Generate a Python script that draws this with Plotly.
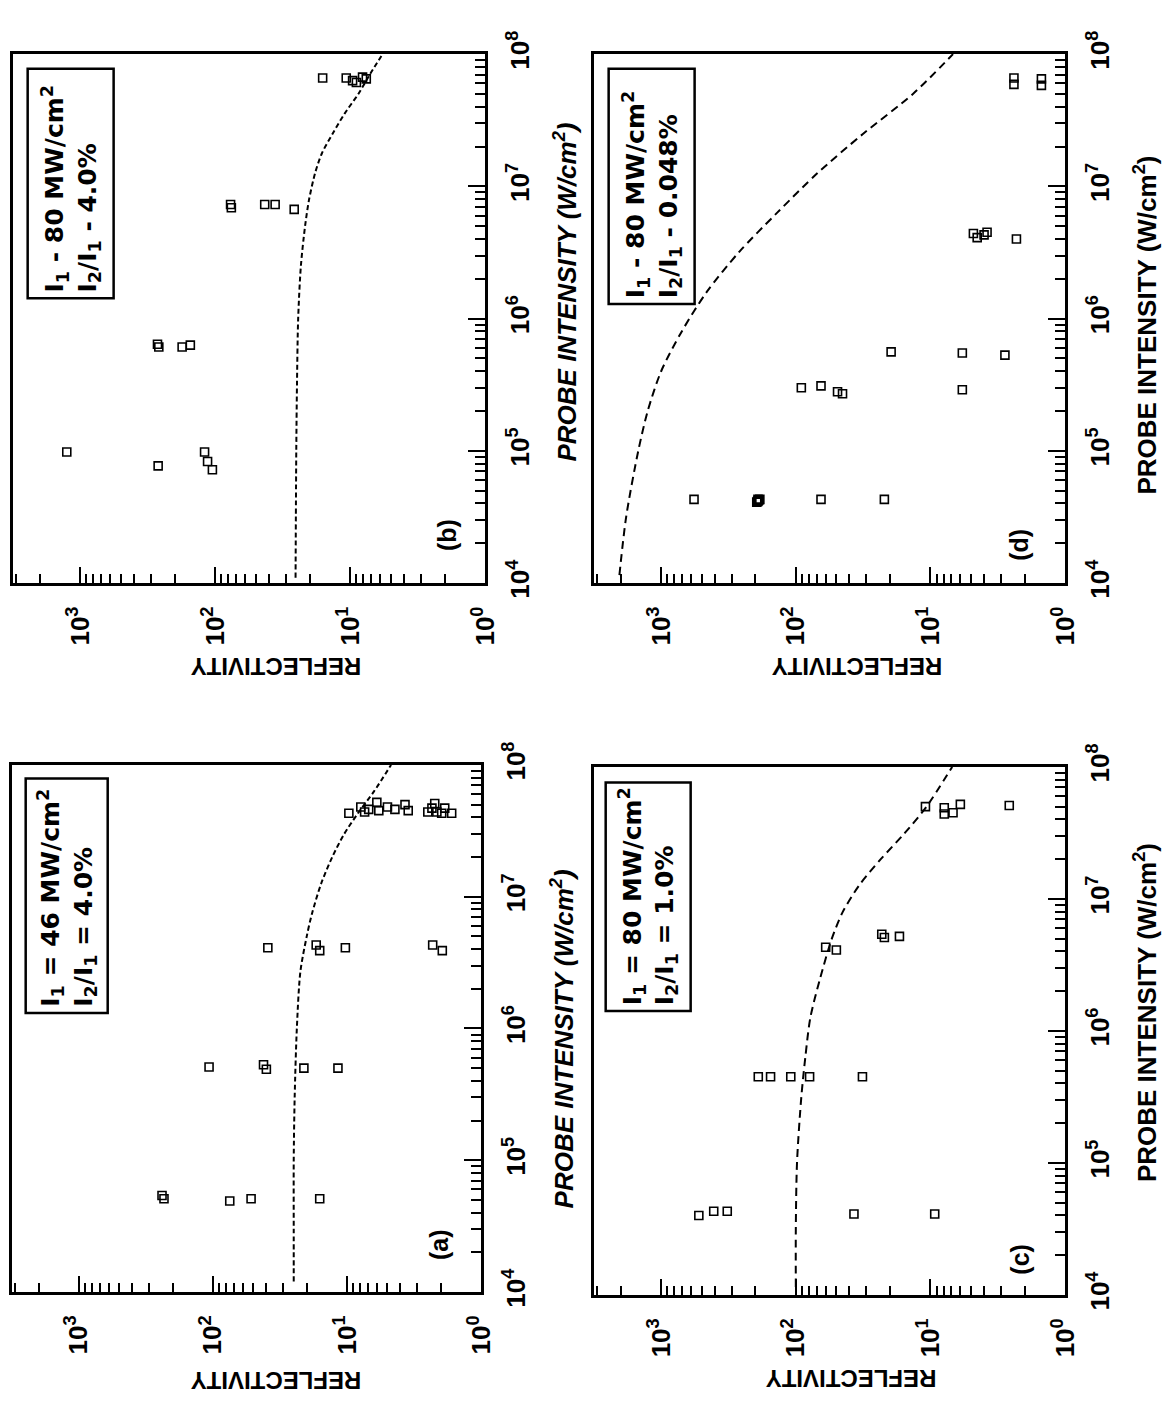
import plotly.graph_objects as go

W, H = 1173, 1414

# ---------------- data ----------------
# Panel (a): I1 = 46 MW/cm2, I2/I1 = 4.0%
a_I = [5.4e4, 5.1e4, 4.9e4, 5.1e4, 5.1e4,
       5.1e5, 5.3e5, 4.9e5, 5.0e5, 5.0e5,
       4.1e6, 4.3e6, 3.9e6, 4.1e6, 4.3e6, 3.9e6,
       4.3e7, 4.8e7, 4.4e7, 4.6e7, 5.2e7, 4.5e7, 4.8e7, 4.6e7, 5.0e7,
       4.5e7, 4.4e7, 4.7e7, 5.1e7, 4.4e7, 4.3e7, 4.7e7, 4.3e7]
a_R = [240, 232, 75, 52, 16,
       107, 42, 40, 21, 11.7,
       39, 17, 16, 10.3, 2.3, 1.95,
       9.7, 7.9, 7.4, 6.9, 6.0, 5.8, 5.0, 4.4, 3.7,
       3.5, 2.5, 2.33, 2.22, 2.14, 1.97, 1.87, 1.66]
a_fit_I = [1.2e4, 3e4, 1e5, 3e5, 1e6, 2.7e6, 5e6, 7.4e6, 1.26e7, 2e7, 2.95e7, 4.3e7, 6.3e7, 1e8]
a_fit_R = [25, 25, 25, 24.6, 23.7, 22.3, 20, 18.3, 15.6, 12.9, 10.6, 8.3, 6.3, 4.7]

# Panel (b): I1 = 80 MW/cm2, I2/I1 = 4.0%
b_I = [9.8e4, 7.7e4, 9.8e4, 8.3e4, 7.2e4,
       6.4e5, 6.1e5, 6.1e5, 6.3e5,
       7.3e6, 6.9e6, 7.3e6, 7.3e6, 6.7e6,
       6.6e7, 6.6e7, 6.3e7, 6.1e7, 6.7e7, 6.5e7]
b_R = [1260, 265, 120, 114, 105,
       268, 262, 176, 153,
       77, 76, 43, 36, 26,
       16, 10.7, 9.6, 9.0, 8.1, 7.6]
b_fit_I = [1.1e4, 1e5, 3.16e5, 1e6, 2.5e6, 5e6, 7.9e6, 1.26e7, 1.78e7, 2.5e7,
           3.55e7, 5e7, 7.1e7, 1e8]
b_fit_R = [25.4, 25.1, 24.8, 24.3, 23.2, 21.6, 20.2, 18.2, 16.2, 13.5,
           11.0, 8.7, 7.1, 5.75]

# Panel (c): I1 = 80 MW/cm2, I2/I1 = 1.0%
c_I = [4.0e4, 4.3e4, 4.3e4, 4.1e4, 4.1e4,
       4.5e5, 4.5e5, 4.5e5, 4.5e5, 4.5e5,
       4.3e6, 4.1e6, 5.4e6, 5.1e6, 5.2e6,
       5.0e7, 4.4e7, 4.9e7, 4.5e7, 5.2e7, 5.1e7]
c_R = [525, 407, 323, 37, 9.3,
       190, 154, 109, 79, 32,
       60, 50, 23, 22, 17,
       10.9, 7.9, 7.9, 6.8, 6.0, 2.6]
c_fit_I = [1.15e4, 3.16e4, 1e5, 3.16e5, 6.3e5, 1.26e6, 2.5e6, 5e6, 7.9e6, 1.26e7,
           2e7, 3.16e7, 5e7, 1e8]
c_fit_R = [100, 100, 98, 91, 85, 78, 66, 54, 45, 34, 23.4, 15.5, 10.7, 6.9]

# Panel (d): I1 = 80 MW/cm2, I2/I1 = 0.048%
d_I = [4.3e4, 4.2e4, 4.3e4, 4.1e4, 4.25e4, 4.15e4, 4.3e4, 4.3e4, 4.3e4,
       3.0e5, 3.1e5, 2.8e5, 2.7e5,
       5.6e5, 5.5e5, 2.9e5, 5.3e5,
       4.4e6, 4.1e6, 4.3e6, 4.5e6, 4.0e6,
       6.6e7, 5.9e7, 6.5e7, 5.8e7]
d_R = [570, 190, 185, 195, 188, 192, 191, 65, 22,
       91, 65, 49, 45,
       19.6, 5.8, 5.8, 2.8,
       4.8, 4.5, 4.0, 3.8, 2.3,
       2.4, 2.4, 1.5, 1.5]
d_fit_I = [1.15e4, 3.16e4, 1e5, 2e5, 4e5, 7.9e5, 1.6e6, 3.2e6, 6.3e6, 1.26e7,
           2.5e7, 5e7, 1e8]
d_fit_R = [2042, 1820, 1479, 1259, 1000, 708, 457, 263, 138, 69, 31.6, 13.5, 6.8]

panel_tags = ["(b)", "(d)", "(a)", "(c)"]
legend_l1 = ["I<sub>1</sub> - 80 MW/cm<sup>2</sup>", "I<sub>1</sub> - 80 MW/cm<sup>2</sup>",
             "I<sub>1</sub> = 46 MW/cm<sup>2</sup>", "I<sub>1</sub> = 80 MW/cm<sup>2</sup>"]
legend_l2 = ["I<sub>2</sub>/I<sub>1</sub> - 4.0%", "I<sub>2</sub>/I<sub>1</sub> - 0.048%",
             "I<sub>2</sub>/I<sub>1</sub> = 4.0%", "I<sub>2</sub>/I<sub>1</sub> = 1.0%"]
refl_ticks = [1, 10, 100, 1000]
refl_ticktext = ["10<sup>0</sup>", "10<sup>1</sup>", "10<sup>2</sup>", "10<sup>3</sup>"]
probe_ticks = [1e4, 1e5, 1e6, 1e7, 1e8]
probe_ticktext = ["10<sup>4</sup>", "10<sup>5</sup>", "10<sup>6</sup>", "10<sup>7</sup>", "10<sup>8</sup>"]

# ---------------- layout helpers ----------------
FONT = "Liberation Sans, Arial, sans-serif"
LFONT = "DejaVu Sans, sans-serif"


def px(x):
    return x / W


def py(y):
    return 1 - y / H


# panel boxes in pixels: (left, right, top, bottom)
boxes = [(13, 491, 32, 576), (601, 1078, 32, 576), (12, 487, 763, 1305), (601, 1078, 765, 1308)]
legend_boxes = [(28, 115, 47, 283), (616, 703, 47, 289), (26, 109, 777, 1018), (613, 699, 781, 1016)]
tag_pos = [(453, 527), (1032, 537), (445, 1256), (1032, 1271)]
probe_lab = [(572, 277), (1159, 311), (569, 1045), (1160, 1018)]
probe_italic = [True, False, True, False]
refl_lab = [(279, 662), (867, 662), (279, 1396), (861, 1394)]

series = [(b_I, b_R, b_fit_I, b_fit_R, "5px,3px"),
          (d_I, d_R, d_fit_I, d_fit_R, "8px,5px"),
          (a_I, a_R, a_fit_I, a_fit_R, "5px,3px"),
          (c_I, c_R, c_fit_I, c_fit_R, "8px,5px")]

minor_x = [k * 10 ** e for e in range(0, 4) for k in range(2, 10) if k * 10 ** e < 3100]
minor_y = [k * 10 ** e for e in range(4, 8) for k in range(2, 10)]

fig = go.Figure()
annotations = []
shapes = []

for i, (I, R, fI, fR, dash) in enumerate(series):
    n = "" if i == 0 else str(i + 1)
    xa, ya = "x" + n, "y" + n
    fig.add_trace(go.Scatter(x=fR, y=fI, mode="lines", xaxis=xa, yaxis=ya,
                             line=dict(color="black", width=2, dash=dash,
                                       shape="spline", smoothing=0.8),
                             hoverinfo="skip"))
    fig.add_trace(go.Scatter(x=R, y=I, mode="markers", xaxis=xa, yaxis=ya,
                             marker=dict(symbol="square-open", size=8, color="black",
                                         line=dict(width=1.6, color="black"))))
    l, r, t, b = boxes[i]
    common = dict(showline=True, linewidth=3, linecolor="black", mirror=True,
                  showgrid=False, zeroline=False, ticks="inside", tickcolor="black",
                  tickwidth=2, tickangle=-90,
                  tickfont=dict(family=FONT, size=26, color="black", weight="bold"))
    fig.update_layout(**{
        "xaxis" + n: dict(common, type="log", range=[3.5, 0], domain=[px(l), px(r)],
                          anchor=ya, tickmode="array", tickvals=refl_ticks,
                          ticktext=refl_ticktext, ticklen=16, ticklabelstandoff=10,
                          minor=dict(tickmode="array", tickvals=minor_x, ticks="inside",
                                     ticklen=9, tickwidth=1.5, tickcolor="black")),
        "yaxis" + n: dict(common, type="log", range=[4, 8], domain=[py(b), py(t)],
                          anchor=xa, side="right", tickmode="array", tickvals=probe_ticks,
                          ticktext=probe_ticktext, ticklen=17, ticklabelstandoff=10,
                          minor=dict(tickmode="array", tickvals=minor_y, ticks="inside",
                                     ticklen=10, tickwidth=1.5, tickcolor="black")),
    })
    # legend box
    ll, lr, lt, lb = legend_boxes[i]
    shapes.append(dict(type="rect", xref="paper", yref="paper", x0=px(ll), x1=px(lr),
                       y0=py(lb), y1=py(lt), line=dict(color="black", width=2.5)))
    annotations.append(dict(xref="paper", yref="paper", x=px((ll + lr) / 2), y=py(lb - 4),
                            xanchor="center", yanchor="bottom", textangle=-90, align="left",
                            showarrow=False, text=legend_l1[i] + "<br>" + legend_l2[i],
                            font=dict(family=LFONT, size=25, color="black", weight="bold")))
    tx, ty = tag_pos[i]
    annotations.append(dict(xref="paper", yref="paper", x=px(tx), y=py(ty), textangle=-90,
                            xanchor="center", yanchor="middle", showarrow=False,
                            text=panel_tags[i],
                            font=dict(family=FONT, size=25, color="black", weight="bold")))
    qx, qy = probe_lab[i]
    annotations.append(dict(xref="paper", yref="paper", x=px(qx), y=py(qy), textangle=-90,
                            xanchor="center", yanchor="middle", showarrow=False,
                            text="PROBE INTENSITY (W/cm<sup>2</sup>)",
                            font=dict(family=FONT, size=26, color="black", weight="bold",
                                      style="italic" if probe_italic[i] else "normal")))
    rx, ry = refl_lab[i]
    annotations.append(dict(xref="paper", yref="paper", x=px(rx), y=py(ry), textangle=180,
                            xanchor="center", yanchor="middle", showarrow=False,
                            text="REFLECTIVITY",
                            font=dict(family=FONT, size=24, color="black", weight="bold")))

fig.update_layout(width=W, height=H, autosize=False, showlegend=False,
                  margin=dict(l=0, r=0, t=0, b=0),
                  paper_bgcolor="white", plot_bgcolor="white",
                  annotations=annotations, shapes=shapes)

fig.write_html("out.html", config={"displayModeBar": False},
               post_script="document.body.style.margin='0px';")
